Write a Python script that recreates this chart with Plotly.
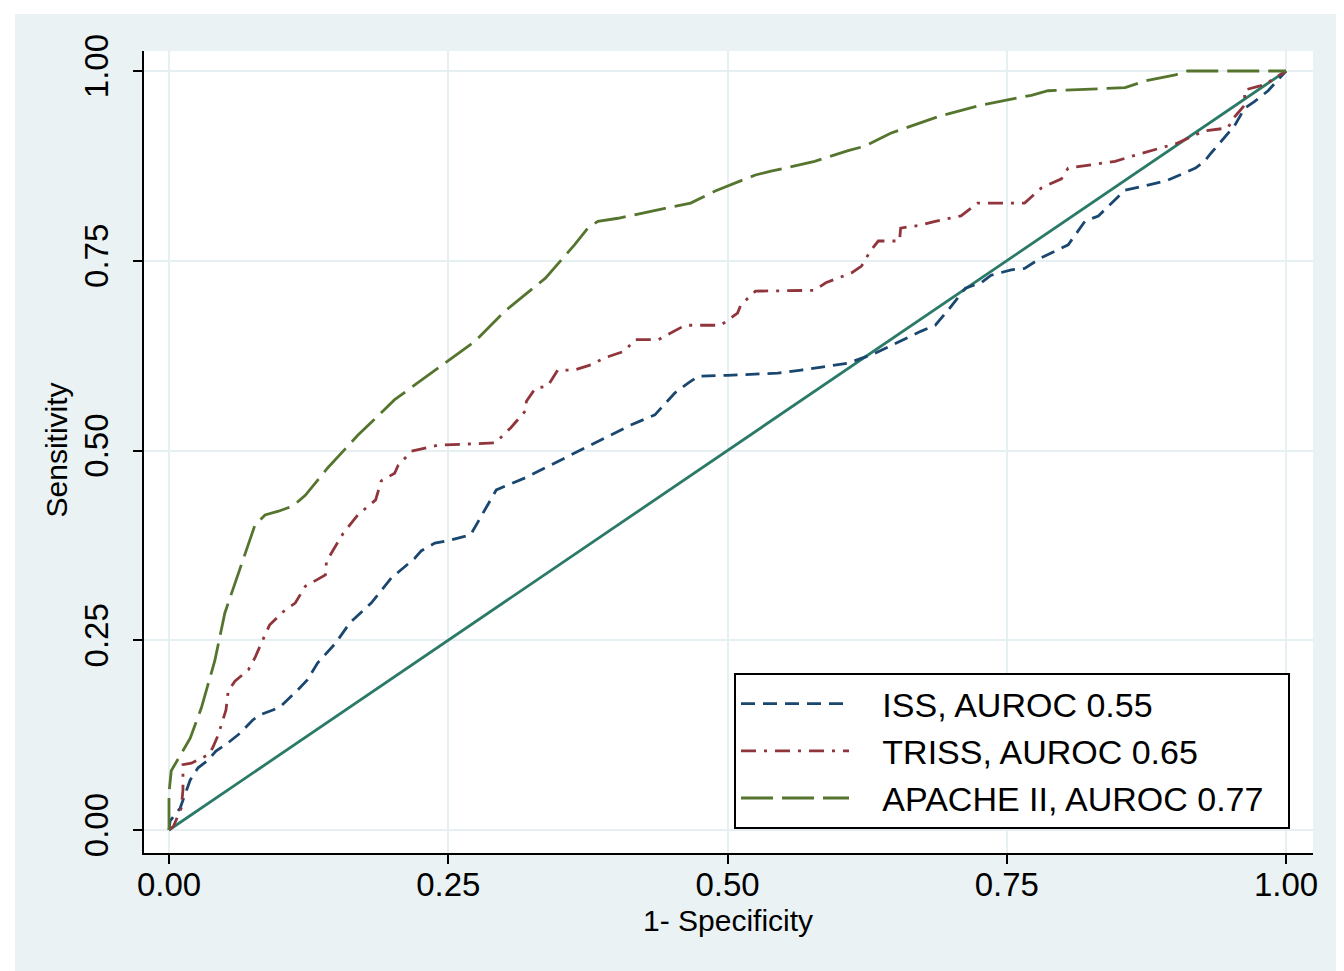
import plotly.graph_objects as go

# ---------------- data ----------------
iss_fpr = [0, 0.001, 0.010, 0.014, 0.019, 0.026, 0.035, 0.042, 0.053, 0.064, 0.075, 0.082, 0.093, 0.100,
           0.115, 0.124, 0.133, 0.149, 0.162, 0.181, 0.199, 0.220, 0.226, 0.238, 0.252, 0.270, 0.293,
           0.301, 0.319, 0.342, 0.366, 0.390, 0.414, 0.435, 0.453, 0.465, 0.474, 0.500, 0.545, 0.566,
           0.590, 0.608, 0.632, 0.646, 0.673, 0.686, 0.697, 0.713, 0.727, 0.736, 0.754, 0.766, 0.781,
           0.805, 0.811, 0.820, 0.832, 0.847, 0.856, 0.883, 0.894, 0.919, 0.927, 0.933, 0.942, 0.954,
           0.963, 0.972, 0.984, 1.0]
iss_tpr = [0, 0.012, 0.029, 0.046, 0.066, 0.082, 0.092, 0.104, 0.115, 0.128, 0.145, 0.152, 0.158, 0.163,
           0.184, 0.198, 0.220, 0.246, 0.273, 0.299, 0.332, 0.358, 0.368, 0.378, 0.382, 0.389, 0.448,
           0.453, 0.464, 0.481, 0.499, 0.516, 0.534, 0.547, 0.576, 0.589, 0.598, 0.599, 0.602, 0.606,
           0.611, 0.615, 0.628, 0.638, 0.657, 0.665, 0.684, 0.714, 0.721, 0.731, 0.738, 0.740, 0.754,
           0.771, 0.783, 0.802, 0.809, 0.830, 0.843, 0.852, 0.856, 0.872, 0.881, 0.892, 0.908, 0.928,
           0.951, 0.960, 0.974, 1.0]

triss_fpr = [0, 0.004, 0.011, 0.0125, 0.0125, 0.020, 0.035, 0.039, 0.044, 0.051, 0.053, 0.059, 0.071,
             0.077, 0.082, 0.090, 0.104, 0.113, 0.122, 0.140, 0.141, 0.149, 0.156, 0.169, 0.185, 0.190,
             0.202, 0.205, 0.217, 0.241, 0.292, 0.306, 0.319, 0.320, 0.328, 0.339, 0.348, 0.363, 0.378,
             0.390, 0.408, 0.417, 0.438, 0.462, 0.494, 0.509, 0.512, 0.525, 0.578, 0.588, 0.611, 0.620,
             0.628, 0.635, 0.654, 0.655, 0.673, 0.686, 0.709, 0.724, 0.766, 0.781, 0.799, 0.805, 0.825,
             0.847, 0.865, 0.903, 0.919, 0.927, 0.948, 0.953, 0.963, 0.963, 0.981, 1.0]
triss_tpr = [0, 0.005, 0.029, 0.053, 0.086, 0.088, 0.099, 0.108, 0.125, 0.158, 0.183, 0.196, 0.211,
             0.227, 0.244, 0.270, 0.290, 0.299, 0.321, 0.336, 0.354, 0.374, 0.391, 0.415, 0.435, 0.460,
             0.470, 0.480, 0.499, 0.507, 0.510, 0.530, 0.552, 0.565, 0.582, 0.585, 0.606, 0.606, 0.613,
             0.622, 0.631, 0.646, 0.646, 0.665, 0.665, 0.681, 0.692, 0.710, 0.711, 0.721, 0.734, 0.743,
             0.763, 0.776, 0.776, 0.793, 0.797, 0.802, 0.809, 0.826, 0.826, 0.846, 0.858, 0.872, 0.876,
             0.881, 0.889, 0.905, 0.916, 0.921, 0.925, 0.938, 0.955, 0.975, 0.982, 1.0]

apache_fpr = [0, 0, 0.002, 0.0125, 0.019, 0.029, 0.041, 0.050, 0.064, 0.077, 0.086, 0.098, 0.111, 0.122,
              0.142, 0.169, 0.202, 0.238, 0.259, 0.274, 0.301, 0.337, 0.363, 0.375, 0.384, 0.402, 0.444,
              0.467, 0.489, 0.525, 0.539, 0.578, 0.608, 0.623, 0.646, 0.691, 0.727, 0.772, 0.787, 0.856,
              0.874, 0.901, 0.912, 1.0]
apache_tpr = [0, 0.049, 0.078, 0.104, 0.121, 0.161, 0.223, 0.286, 0.345, 0.402, 0.415, 0.420, 0.427, 0.441,
              0.477, 0.520, 0.567, 0.606, 0.628, 0.644, 0.684, 0.727, 0.771, 0.793, 0.802, 0.806, 0.819,
              0.826, 0.842, 0.863, 0.868, 0.881, 0.895, 0.901, 0.918, 0.941, 0.955, 0.968, 0.974, 0.978,
              0.987, 0.995, 1.0, 1.0]

ref_x = [0, 1]
ref_y = [0, 1]

series_names = ["ISS, AUROC 0.55", "TRISS, AUROC 0.65", "APACHE II, AUROC 0.77"]
tick_vals = [0, 0.25, 0.5, 0.75, 1.0]
tick_text = ["0.00", "0.25", "0.50", "0.75", "1.00"]

# ---------------- style ----------------
FONT = "Liberation Sans, Arial, sans-serif"
BLUISH = "#eaf2f3"
GRID = "#e6eff1"
PAD_L = "\u00a0\u00a0\u00a0"
PAD_R = "\u00a0\u00a0"

fig = go.Figure()
fig.add_trace(go.Scatter(x=ref_x, y=ref_y, mode="lines", showlegend=False,
                         line=dict(color="#2b7a68", width=2.8), hoverinfo="skip"))
fig.add_trace(go.Scatter(x=iss_fpr, y=iss_tpr, mode="lines", name=PAD_L + series_names[0] + PAD_R,
                         line=dict(color="#1a476f", width=2.8, dash="14px,8px")))
fig.add_trace(go.Scatter(x=triss_fpr, y=triss_tpr, mode="lines", name=PAD_L + series_names[1] + PAD_R,
                         line=dict(color="#90353b", width=2.8, dash="15px,8px,3px,8px")))
fig.add_trace(go.Scatter(x=apache_fpr, y=apache_tpr, mode="lines", name=PAD_L + series_names[2] + PAD_R,
                         line=dict(color="#55752f", width=2.8, dash="32px,9px")))

# plot area geometry (px)
L, R, T, B = 136, 1305, 43, 845
W, H = 1344, 971
pw, ph = R - L, B - T


def px2paper_x(px):
    return (px - L) / pw


def px2paper_y(py):
    return (B - py) / ph


# bluish graph region around the white plot region (frame of 4 strips)
ox0, ox1, oy0, oy1 = 7, 1337, 6, 967
for (a, b, c, d) in [(ox0, L, oy0, oy1), (R, ox1, oy0, oy1), (L, R, oy0, T), (L, R, B, oy1)]:
    fig.add_shape(type="rect", xref="paper", yref="paper", layer="below",
                  x0=px2paper_x(a), x1=px2paper_x(b), y0=px2paper_y(d), y1=px2paper_y(c),
                  fillcolor=BLUISH, line=dict(width=0))

fig.add_annotation(text="1- Specificity", xref="x", yref="paper", x=0.5, y=px2paper_y(912),
                   showarrow=False, font=dict(family=FONT, size=30, color="black"),
                   xanchor="center", yanchor="middle")
fig.add_annotation(text="Sensitivity", xref="paper", yref="y", x=px2paper_x(48), y=0.5,
                   showarrow=False, textangle=-90, font=dict(family=FONT, size=30, color="black"),
                   xanchor="center", yanchor="middle")

axis_common = dict(tickvals=tick_vals, ticktext=tick_text, showgrid=True, gridcolor=GRID, gridwidth=2,
                   zeroline=False, showline=True, linecolor="black", linewidth=2,
                   ticks="outside", ticklen=9, tickwidth=2, tickcolor="black",
                   tickfont=dict(family=FONT, size=33, color="black"))

fig.update_xaxes(range=[(L - 161) / 1117, (R - 161) / 1117], ticklabelstandoff=-8, **axis_common)
fig.update_yaxes(range=[(822 - B) / 759, (822 - T) / 759], tickangle=-90, ticklabelstandoff=12,
                 **axis_common)

fig.update_layout(
    width=W, height=H,
    margin=dict(l=L, r=W - R, t=T, b=H - B, autoexpand=False),
    paper_bgcolor="white", plot_bgcolor="white",
    font=dict(family=FONT, color="black"),
    legend=dict(x=px2paper_x(1282), y=px2paper_y(821), xanchor="right", yanchor="bottom",
                bgcolor="white", bordercolor="black", borderwidth=2,
                font=dict(family=FONT, size=34, color="black"), itemwidth=108,
                traceorder="normal"),
)

fig.write_html("out.html")
